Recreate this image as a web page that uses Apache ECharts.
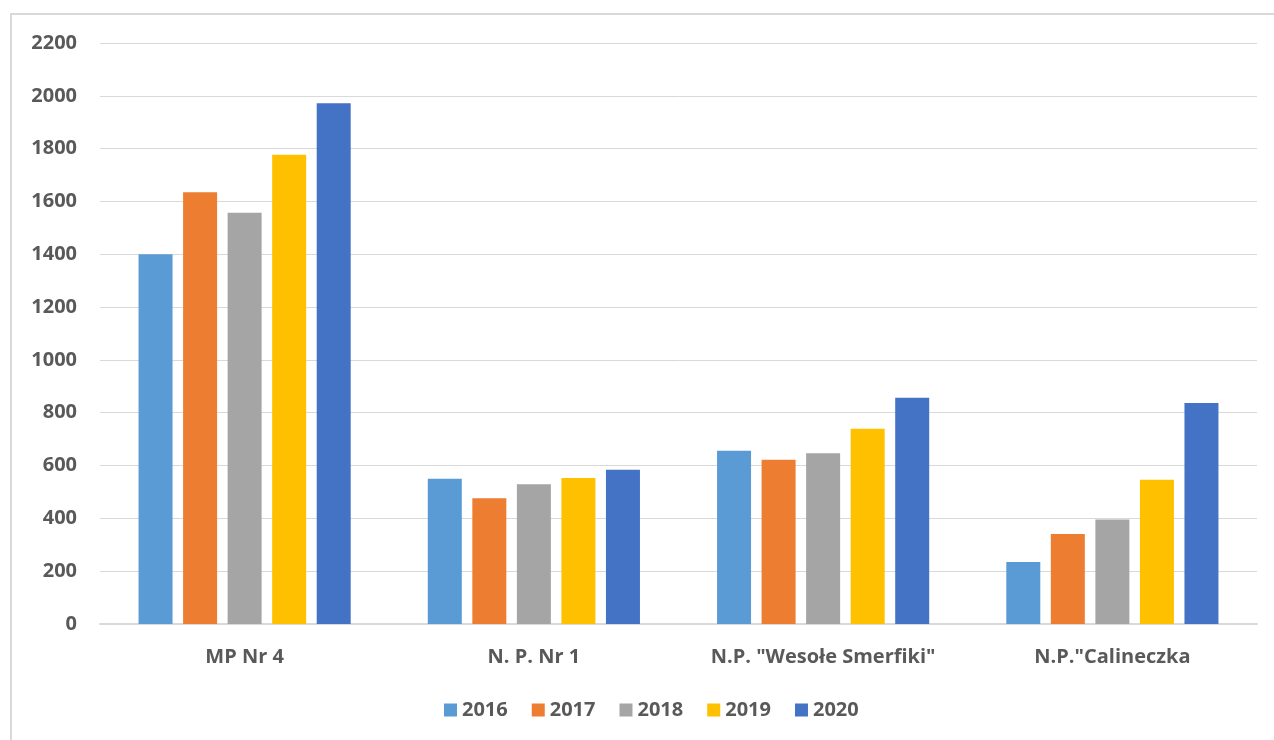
<!DOCTYPE html>
<html>
<head>
<meta charset="utf-8">
<script src="https://cdn.jsdelivr.net/npm/echarts@6/dist/echarts.min.js"></script>
<style>
html,body{margin:0;padding:0;background:#fff;}
#chart{width:1274px;height:740px;}
</style>
</head>
<body>
<div id="chart"></div>
<script>
const categories = ['MP Nr 4', 'N. P. Nr 1', 'N.P. "Wesołe Smerfiki"', 'N.P."Calineczka'];
const years = ['2016', '2017', '2018', '2019', '2020'];
const v2016 = [1400, 550, 656, 235];
const v2017 = [1635, 476, 622, 341];
const v2018 = [1557, 529, 647, 396];
const v2019 = [1777, 553, 739, 546];
const v2020 = [1972, 584, 857, 837];
const colors = ['#5B9BD5', '#ED7D31', '#A5A5A5', '#FFC000', '#4472C4'];
const seriesValues = [v2016, v2017, v2018, v2019, v2020];

const font = "'Open Sans', 'Liberation Sans', sans-serif";
const textColor = '#595959';

const chart = echarts.init(document.getElementById('chart'));
chart.setOption({
  animation: false,
  color: colors,
  grid: { left: 100, right: 17, top: 43, bottom: 116, containLabel: false },
  graphic: [{
    type: 'polyline',
    shape: { points: [[11, 740], [11, 14], [1274, 14]] },
    style: { stroke: '#d9d9d9', lineWidth: 2, fill: null },
    silent: true
  }],
  legend: {
    data: years,
    left: 439,
    top: 695,
    itemWidth: 13,
    itemHeight: 13,
    itemGap: 24,
    icon: 'rect',
    textStyle: { fontFamily: font, fontSize: 20, fontWeight: 'bold', color: textColor }
  },
  xAxis: {
    type: 'category',
    data: categories,
    axisLine: { lineStyle: { color: '#d9d9d9', width: 2 } },
    axisTick: { show: false },
    axisLabel: { interval: 0, fontFamily: font, fontSize: 20, fontWeight: 'bold', color: textColor, margin: 23 }
  },
  yAxis: {
    type: 'value',
    min: 0,
    max: 2200,
    interval: 200,
    axisLine: { show: false },
    axisTick: { show: false },
    splitLine: { lineStyle: { color: '#d9d9d9', width: 1 } },
    axisLabel: { formatter: v => String(v), fontFamily: font, fontSize: 20, fontWeight: 'bold', color: textColor, margin: 23 }
  },
  series: years.map((y, i) => ({
    name: y,
    type: 'bar',
    data: seriesValues[i],
    barWidth: 34,
    barGap: '31%',
    itemStyle: { color: colors[i] }
  }))
});
</script>
</body>
</html>
